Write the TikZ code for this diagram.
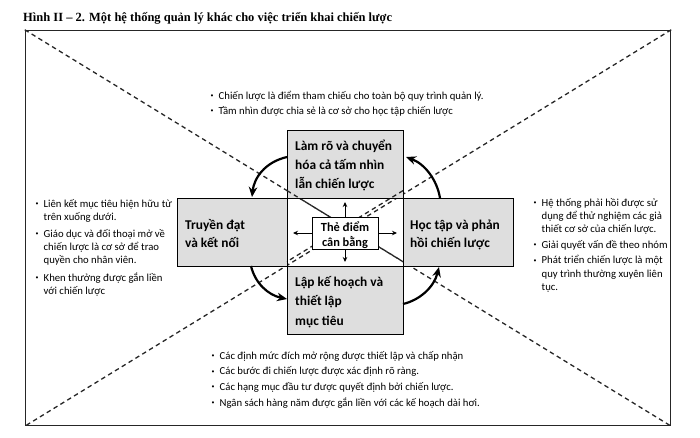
\documentclass[tikz,border=0pt]{standalone}
\usepackage{fontspec}
\setmainfont{Carlito}
\newfontfamily\titlefont{Liberation Serif}
\usetikzlibrary{arrows.meta}
\newcommand\bul{\makebox[8.5pt][l]{\hspace{0.3pt}\raisebox{1.8pt}{\scalebox{0.55}{\textbullet}}}}
\tikzset{
  lst/.style={anchor=base west, inner sep=0pt, font=\fontsize{10.7}{13.2}\selectfont},
  shbox/.style={draw=black, line width=0.8pt, fill=black!13, inner sep=0pt},
  whbox/.style={draw=black, line width=0.8pt, fill=white, inner sep=0pt},
  boxtxt/.style={anchor=base west, inner sep=0pt, font=\bfseries\fontsize{13.4}{19.3}\selectfont},
  diag/.style={line width=1.3pt, dash pattern=on 4.5pt off 3.5pt, black!85},
  cyc/.style={line width=2.2pt, -{Stealth[length=10pt,width=8.5pt]}},
  spoke/.style={line width=0.9pt, -{Stealth[length=5pt,width=4.5pt]}}
}
\begin{document}
\begin{tikzpicture}[x=1pt,y=-1pt]
\useasboundingbox (0,0) rectangle (700,437);
% title
\node[anchor=base west, inner sep=0pt, font=\titlefont\bfseries\fontsize{12.5}{14}\selectfont] (title) at (23,21)
  {Hình II – 2. Một hệ thống quản lý khác cho việc triển khai chiến lược};
% frame
\node[draw=black!85, line width=1.4pt, minimum width=645pt, minimum height=395pt, inner sep=0pt] (frame) at (348,228) {};
\draw[diag] (frame.north west) -- (frame.south east);
\draw[diag] (frame.north east) -- (frame.south west);
% boxes
\node[shbox, minimum width=116pt, minimum height=68pt] (tbox) at (345,164) {};
\node[shbox, minimum width=110pt, minimum height=68pt] (lbox) at (232,232) {};
\node[shbox, minimum width=110pt, minimum height=68pt] (rbox) at (458,232) {};
\node[shbox, minimum width=116pt, minimum height=68pt] (bbox) at (345,300) {};
\node[draw=black, line width=0.8pt, minimum width=116pt, minimum height=68pt, inner sep=0pt] (cen) at (345,232) {};
\draw[diag] (287,190.6) -- (403,261.6);
\draw[diag] (403,190.6) -- (287,261.6);
\node[whbox, minimum width=66pt, minimum height=32pt] (cb) at (345,233) {};
% box labels
\node[boxtxt] (tlab) at (295,150) {\begin{tabular}[t]{@{}l@{}}Làm rõ và chuyển\\hóa cả tấm nhìn\\lẫn chiến lược\end{tabular}};
\node[boxtxt, font=\bfseries\fontsize{13.4}{18}\selectfont] (llab) at (185,229.5) {\begin{tabular}[t]{@{}l@{}}Truyền đạt\\và kết nối\end{tabular}};
\node[boxtxt, font=\bfseries\fontsize{13.4}{18}\selectfont] (rlab) at (410,229.5) {\begin{tabular}[t]{@{}l@{}}Học tập và phản\\hồi chiến lược\end{tabular}};
\node[boxtxt] (blab) at (295,286.5) {\begin{tabular}[t]{@{}l@{}}Lập kế hoạch và\\thiết lập\\mục tiêu\end{tabular}};
\node[anchor=base, inner sep=0pt, font=\bfseries\fontsize{12.4}{15}\selectfont] (clab) at (345,231) {\begin{tabular}[t]{@{}c@{}}Thẻ điểm\\cân bằng\end{tabular}};
% spokes
\coordinate (su) at (345,202);
\coordinate (sd) at (345,262);
\coordinate (sl) at (293,233);
\coordinate (sr) at (397,233);
\draw[spoke] (cb.north) -- (su);
\draw[spoke] (cb.south) -- (sd);
\draw[spoke] (cb.west) -- (sl);
\draw[spoke] (cb.east) -- (sr);
% cycle arrows
\coordinate (a1s) at (287,157);
\coordinate (a1e) at (252,197);
\coordinate (a2s) at (440,198);
\coordinate (a2e) at (406,157);
\coordinate (a3s) at (251,266);
\coordinate (a3e) at (287,299);
\coordinate (a4s) at (403,304);
\coordinate (a4e) at (439,267);
\draw[cyc] (a1s) .. controls (265,162) and (254,178) .. (a1e);
\draw[cyc] (a2s) .. controls (437,180) and (425,164) .. (a2e);
\draw[cyc] (a3s) .. controls (255,283) and (268,295) .. (a3e);
\draw[cyc] (a4s) .. controls (420,300) and (434,287) .. (a4e);
% lists
\node[lst] (tlist) at (210,99) {\begin{tabular}[t]{@{}l@{}l@{}}
\bul & Chiến lược là điểm tham chiếu cho toàn bộ quy trình quản lý.\\[2.3pt]
\bul & Tầm nhìn được chia sẻ là cơ sở cho học tập chiến lược
\end{tabular}};
\node[lst] (llist) at (35,207) {\begin{tabular}[t]{@{}l@{}l@{}}
\bul & Liên kết mục tiêu hiện hữu từ\\
 & trên xuống dưới.\\[4pt]
\bul & Giáo dục và đối thoại mở về\\
 & chiến lược là cơ sở để trao\\
 & quyền cho nhân viên.\\[4pt]
\bul & Khen thưởng được gắn liền\\
 & với chiến lược
\end{tabular}};
\node[lst] (rlist) at (533,206) {\begin{tabular}[t]{@{}l@{}l@{}}
\bul & Hệ thống phải hồi được sử\\
 & dụng để thử nghiệm các giả\\
 & thiết cơ sở của chiến lược.\\[3pt]
\bul & Giải quyết vấn đề theo nhóm\\[2pt]
\bul & Phát triển chiến lược là một\\
 & quy trình thường xuyên liên\\
 & tục.
\end{tabular}};
\node[lst] (blist) at (211,359) {\begin{tabular}[t]{@{}l@{}l@{}}
\bul & Các định mức đích mở rộng được thiết lập và chấp nhận\\[2.6pt]
\bul & Các bước đi chiến lược được xác định rõ ràng.\\[2.6pt]
\bul & Các hạng mục đầu tư được quyết định bởi chiến lược.\\[2.6pt]
\bul & Ngân sách hàng năm được gắn liền với các kế hoạch dài hơi.
\end{tabular}};
\end{tikzpicture}
\end{document}
